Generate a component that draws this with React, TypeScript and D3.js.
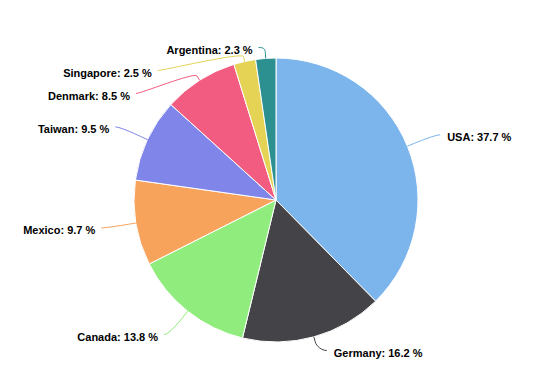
import * as d3 from "d3";

const countries = ["USA", "Germany", "Canada", "Mexico", "Taiwan", "Denmark", "Singapore", "Argentina"];
const shares = [37.7, 16.2, 13.8, 9.7, 9.5, 8.5, 2.5, 2.3];
const colors = ["#7cb5ec", "#434348", "#90ed7d", "#f7a35c", "#8085e9", "#f15c80", "#e4d354", "#2b908f"];

const width = 552;
const height = 367;
const cx = 276;
const cy = 200;
const radius = 142;
const labelDistance = 30;
const labelSize = 23;
const topBound = 36;
const bottomBound = 362;

type Label = {
  i: number;
  left: boolean;
  natural: number;
  y: number;
};

// push overlapping labels apart, keeping groups centred on their targets
const distribute = (items: Label[]) => {
  const sorted = [...items].sort((a, b) => a.natural - b.natural);
  let boxes = sorted.map((d) => ({ members: [d], pos: 0 }));
  const place = (b: { members: Label[]; pos: number }) => {
    const size = b.members.length * labelSize;
    const mean = d3.mean(b.members, (m) => m.natural)!;
    b.pos = Math.max(topBound, Math.min(bottomBound - size, mean - size / 2));
  };
  boxes.forEach(place);
  let merged = true;
  while (merged) {
    merged = false;
    for (let k = 0; k < boxes.length - 1; k++) {
      const a = boxes[k];
      const b = boxes[k + 1];
      if (a.pos + a.members.length * labelSize > b.pos) {
        const m = { members: a.members.concat(b.members), pos: 0 };
        place(m);
        boxes = [...boxes.slice(0, k), m, ...boxes.slice(k + 2)];
        merged = true;
        break;
      }
    }
  }
  boxes.forEach((b) =>
    b.members.forEach((m, j) => {
      m.y = b.pos + j * labelSize + labelSize / 2;
    })
  );
};

const App = () => {
  const data = countries.map((name, i) => ({ name, value: shares[i] }));
  const pie = d3
    .pie<{ name: string; value: number }>()
    .sort(null)
    .value((d) => d.value);
  const arcs = pie(data);
  const arc = d3
    .arc<d3.PieArcDatum<{ name: string; value: number }>>()
    .innerRadius(0)
    .outerRadius(radius);

  const R = radius + labelDistance;
  const pt = (a: number, r: number) => [cx + Math.sin(a) * r, cy - Math.cos(a) * r];

  const labels: Label[] = arcs.map((d, i) => {
    const mid = (d.startAngle + d.endAngle) / 2;
    return { i, left: mid > Math.PI, natural: pt(mid, R)[1], y: 0 };
  });
  distribute(labels.filter((l) => !l.left));
  distribute(labels.filter((l) => l.left));

  const getX = (y: number, left: boolean) => {
    const ang = Math.asin(Math.max(-1, Math.min(1, (y - cy) / R)));
    return cx + (left ? -1 : 1) * (Math.cos(ang) * R + 5);
  };

  return (
    <svg
      width={width}
      height={height}
      style={{ position: "absolute", left: 0, top: 0, background: "#fff" }}
      fontFamily="'Liberation Sans', Arial, sans-serif"
    >
      <g transform={`translate(${cx},${cy})`}>
        {arcs.map((d, i) => (
          <path key={d.data.name} d={arc(d)!} fill={colors[i]} stroke="#fff" strokeWidth={1} strokeLinejoin="round" />
        ))}
      </g>
      {labels.map((l) => {
        const d = arcs[l.i];
        const mid = (d.startAngle + d.endAngle) / 2;
        const atEdge = l.y - labelSize / 2 <= topBound + 0.5 || l.y + labelSize / 2 >= bottomBound - 0.5;
        const x = getX(atEdge ? l.natural : l.y, l.left);
        const touch = pt(mid, radius);
        const brk = pt(mid, radius + 5);
        const path = [
          "M", x, l.y,
          "C", x + (l.left ? 5 : -5), l.y,
          2 * brk[0] - touch[0], 2 * brk[1] - touch[1],
          brk[0], brk[1],
          "L", touch[0], touch[1],
        ].join(" ");
        return (
          <g key={d.data.name}>
            <path d={path} fill="none" stroke={colors[l.i]} strokeWidth={1} />
            <text
              x={x + (l.left ? -6 : 7)}
              y={l.y + 6}
              textAnchor={l.left ? "end" : "start"}
              fontSize={11}
              fontWeight="bold"
              fill="#000"
              stroke="#fff"
              strokeWidth={2}
              paintOrder="stroke"
              strokeLinejoin="round"
            >
              {`${d.data.name}: ${d.data.value} %`}
            </text>
          </g>
        );
      })}
    </svg>
  );
};

export default App;
